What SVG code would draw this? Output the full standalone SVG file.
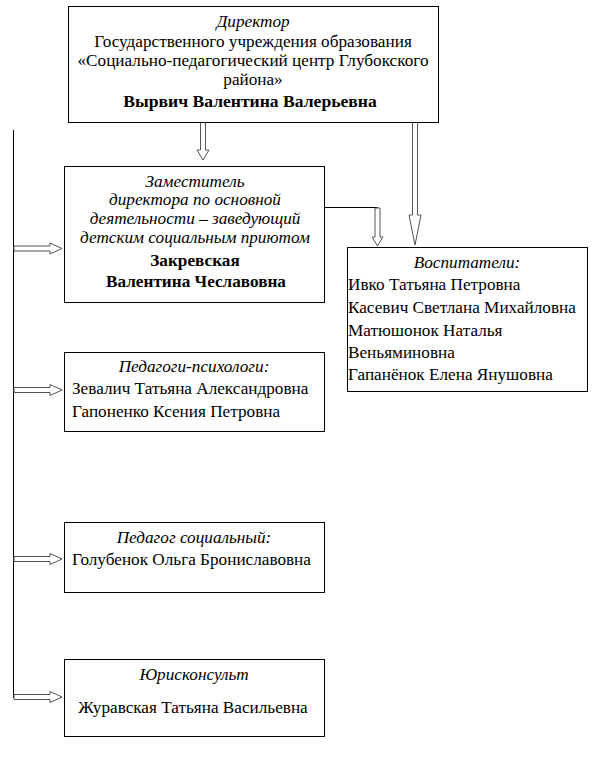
<svg xmlns="http://www.w3.org/2000/svg" width="599" height="770" viewBox="0 0 599 770">
<style>
.box{fill:#fff;stroke:#000;stroke-width:1}
.t{font-family:"Liberation Serif","Times New Roman",serif;font-size:17.2px;fill:#000}
.i{font-style:italic}
.b{font-weight:bold}
.m{text-anchor:middle}
.arr{fill:#fff;stroke:#555;stroke-width:1}
.ln{fill:none;stroke:#000;stroke-width:1}
</style>
<rect width="599" height="770" fill="#fff"/>
<g id="connectors">
<line class="ln" x1="13.5" y1="130" x2="13.5" y2="698"/>
<polyline class="ln" points="324,207.5 377.5,207.5 377.5,210"/>
<polygon class="arr" points="200.5,122 205.5,122 205.5,150 209,150 203,160 197,150 200.5,150"/>
<polygon class="arr" points="412.5,122 417.5,122 417.5,215 421,215 415,245 409,215 412.5,215"/>
<polygon class="arr" points="375,208 380,208 380,237 383,237 377.5,246 372,237 375,237"/>
<polygon class="arr" points="14,246 50,246 50,243 62,248.5 50,254 50,251 14,251"/>
<polygon class="arr" points="14,387.5 50,387.5 50,384.5 62,390 50,395.5 50,392.5 14,392.5"/>
<polygon class="arr" points="14,556.5 50,556.5 50,553.5 62,559 50,564.5 50,561.5 14,561.5"/>
<polygon class="arr" points="14,694.5 50,694.5 50,691.5 62,697 50,702.5 50,699.5 14,699.5"/>
</g>
<g id="director">
<rect class="box" x="68.5" y="6.5" width="370" height="116"/>
<text class="t i m" x="253" y="27">Директор</text>
<text class="t m" x="253" y="47">Государственного учреждения образования</text>
<text class="t m" x="253" y="66">«Социально-педагогический центр Глубокского</text>
<text class="t m" x="253" y="85">района»</text>
<text class="t b m" x="250" y="107" style="font-size:17.6px">Вырвич Валентина Валерьевна</text>
</g>
<g id="deputy">
<rect class="box" x="64.5" y="166.5" width="260" height="136"/>
<text class="t i m" x="195" y="187">Заместитель</text>
<text class="t i m" x="195" y="205">директора по основной</text>
<text class="t i m" x="195" y="224">деятельности – заведующий</text>
<text class="t i m" x="195" y="243">детским социальным приютом</text>
<text class="t b m" x="195" y="266">Закревская</text>
<text class="t b m" x="196" y="287">Валентина Чеславовна</text>
</g>
<g id="vospitateli">
<rect class="box" x="347.5" y="247.5" width="240" height="144"/>
<text class="t i m" x="467" y="268">Воспитатели:</text>
<text class="t" x="348" y="290">Ивко Татьяна Петровна</text>
<text class="t" x="348" y="313">Касевич Светлана Михайловна</text>
<text class="t" x="348" y="336">Матюшонок Наталья</text>
<text class="t" x="348" y="358">Веньяминовна</text>
<text class="t" x="348" y="380">Гапанёнок Елена Янушовна</text>
</g>
<g id="psychologists">
<rect class="box" x="64.5" y="352.5" width="260" height="79"/>
<text class="t i m" x="194" y="372">Педагоги-психологи:</text>
<text class="t" x="72" y="394">Зевалич Татьяна Александровна</text>
<text class="t" x="72" y="417">Гапоненко Ксения Петровна</text>
</g>
<g id="social">
<rect class="box" x="64.5" y="522.5" width="260" height="70"/>
<text class="t i m" x="194" y="543">Педагог социальный:</text>
<text class="t" x="72" y="565">Голубенок Ольга Брониславовна</text>
</g>
<g id="lawyer">
<rect class="box" x="64.5" y="659.5" width="260" height="77"/>
<text class="t i m" x="194" y="680">Юрисконсульт</text>
<text class="t m" x="193" y="713">Журавская Татьяна Васильевна</text>
</g>
</svg>
